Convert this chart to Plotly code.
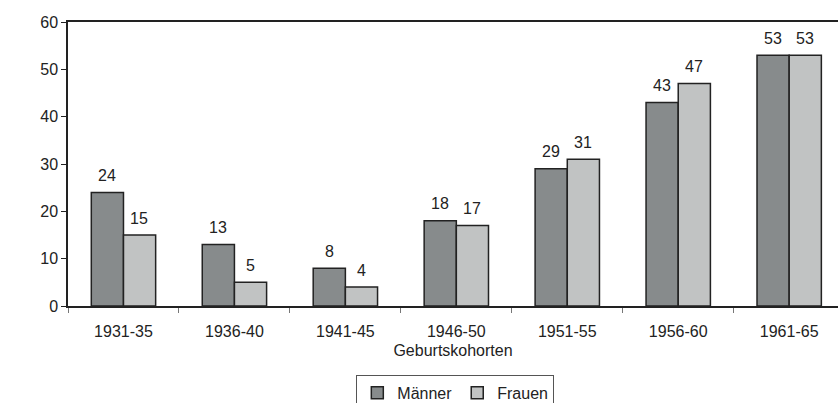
import plotly.graph_objects as go

# Anteil je Geburtskohorte
kohorten = ["1931-35", "1936-40", "1941-45", "1946-50", "1951-55", "1956-60", "1961-65"]
maenner = [24, 13, 8, 18, 29, 43, 53]
frauen = [15, 5, 4, 17, 31, 47, 53]

FONT = "Liberation Sans, Arial, sans-serif"
INK = "#222222"

fig = go.Figure()

fig.add_trace(go.Bar(
    x=kohorten, y=maenner, name="Männer",
    marker=dict(color="#878b8c", line=dict(color=INK, width=1.5)),
))
fig.add_trace(go.Bar(
    x=kohorten, y=frauen, name="Frauen",
    marker=dict(color="#c1c3c3", line=dict(color=INK, width=1.5)),
))

# value labels above bars
for vals, shift in ((maenner, -16), (frauen, 16)):
    for k, v in zip(kohorten, vals):
        fig.add_annotation(
            x=k, y=v, text=str(v), showarrow=False,
            xshift=shift, yshift=17,
            font=dict(family=FONT, size=16, color=INK),
        )

fig.update_layout(
    width=838, height=403,
    margin=dict(l=68, r=0, t=22, b=97),
    barmode="group", bargap=0.42, bargroupgap=0,
    paper_bgcolor="white", plot_bgcolor="white",
    font=dict(family=FONT, size=16, color=INK),
    showlegend=True,
    legend=dict(
        orientation="h", xanchor="center", x=0.503,
        yref="container", yanchor="top", y=0.07,
        bordercolor="#555555", borderwidth=1,
        font=dict(size=16), itemwidth=30, tracegroupgap=0,
    ),
    xaxis=dict(
        range=[-0.5, 6.44],
        showline=True, linecolor=INK, linewidth=1.5, mirror=True,
        ticks="outside", tickson="boundaries", ticklen=5, tickcolor="#777777",
        ticklabelstandoff=10,
        title=dict(text="Geburtskohorten", font=dict(size=16), standoff=6),
        showgrid=False,
    ),
    yaxis=dict(
        range=[0, 60], dtick=10,
        showline=True, linecolor=INK, linewidth=1.5,
        ticks="outside", ticklen=5, tickcolor=INK,
        showgrid=False, zeroline=False,
    ),
)

fig.write_html(
    "out.html",
    config={"displayModeBar": False},
    post_script="document.body.style.margin='0';",
)
